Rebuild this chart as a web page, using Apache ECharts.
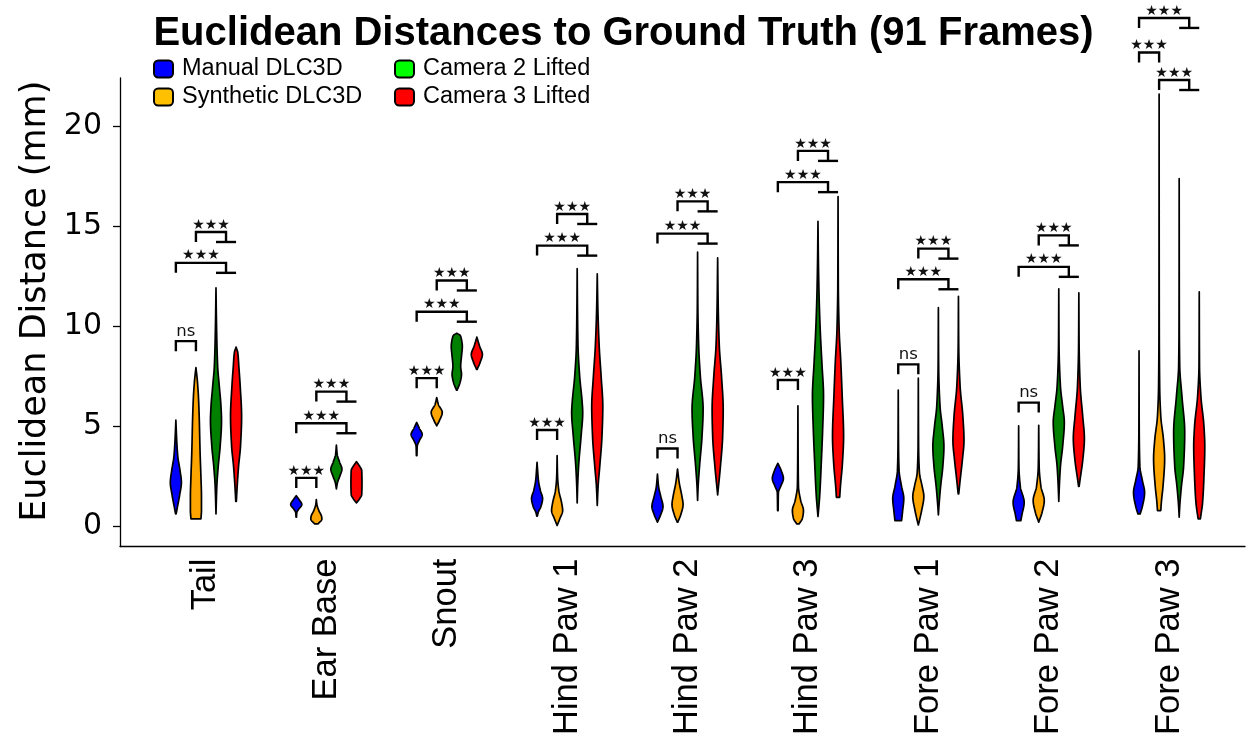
<!DOCTYPE html>
<html>
<head>
<meta charset="utf-8">
<script src="https://cdn.jsdelivr.net/npm/echarts@6/dist/echarts.min.js"></script>
<style>
  html, body { margin: 0; padding: 0; background: #ffffff; }
  #chart { width: 1247px; height: 738px; }
</style>
</head>
<body>
<div id="chart"></div>
<script>
// Body parts on the x axis
const categories = ['Tail', 'Ear Base', 'Snout', 'Hind Paw 1', 'Hind Paw 2', 'Hind Paw 3', 'Fore Paw 1', 'Fore Paw 2', 'Fore Paw 3'];
const groupNames = ['Manual DLC3D', 'Synthetic DLC3D', 'Camera 2 Lifted', 'Camera 3 Lifted'];
const yTicks = [0, 5, 10, 15, 20];

// Violin outlines, one per body part: [distance in mm, relative density width]
const manualProfiles = [
  [[0.63, 0.05], [1.0, 0.3], [1.6, 0.7], [2.2, 1.0], [2.8, 0.75], [3.5, 0.35], [4.5, 0.12], [5.31, 0]],
  [[0.47, 0.04], [0.7, 0.1], [0.85, 0.4], [1.1, 1.0], [1.35, 0.5], [1.54, 0]],
  [[3.54, 0.05], [4.0, 0.1], [4.3, 0.5], [4.6, 1.0], [4.9, 0.5], [5.2, 0]],
  [[0.52, 0.05], [0.7, 0.2], [1.0, 0.7], [1.4, 1.0], [1.8, 0.6], [2.3, 0.25], [2.8, 0.1], [3.21, 0]],
  [[0.22, 0], [0.6, 0.6], [1.0, 1.0], [1.5, 0.6], [2.0, 0.2], [2.62, 0]],
  [[0.8, 0.05], [1.7, 0.1], [2.0, 0.5], [2.4, 1.0], [2.8, 0.6], [3.16, 0]],
  [[0.3, 0.6], [0.8, 0.8], [1.4, 1.0], [2.0, 0.6], [2.8, 0.15], [4.0, 0.05], [6.81, 0]],
  [[0.3, 0.4], [0.6, 0.6], [1.2, 1.0], [2.0, 0.3], [3.0, 0.05], [5.03, 0]],
  [[0.63, 0.2], [1.0, 0.6], [1.7, 1.0], [2.3, 0.6], [3.0, 0.15], [5.0, 0.03], [8.77, 0]]
];
const syntheticProfiles = [
  [[0.38, 0.9], [0.8, 1.0], [1.5, 1.0], [2.5, 0.9], [3.7, 0.75], [5.4, 0.6], [6.5, 0.45], [7.3, 0.25], [7.94, 0]],
  [[0.13, 0.3], [0.38, 1.0], [0.5, 0.95], [0.8, 0.45], [1.1, 0.1], [1.35, 0]],
  [[5.03, 0], [5.3, 0.5], [5.7, 1.0], [6.1, 0.3], [6.44, 0]],
  [[0.05, 0], [0.4, 0.5], [0.8, 1.0], [1.2, 0.8], [1.8, 0.3], [2.5, 0.08], [3.54, 0]],
  [[0.22, 0.05], [0.6, 0.6], [1.1, 1.0], [1.5, 0.8], [2.2, 0.3], [2.87, 0]],
  [[0.13, 0.2], [0.4, 0.8], [0.8, 1.0], [1.3, 0.5], [2.0, 0.1], [3.0, 0.05], [6.03, 0]],
  [[0.08, 0], [0.3, 0.2], [0.8, 0.6], [1.5, 1.0], [2.0, 0.7], [2.7, 0.2], [4.0, 0.05], [7.41, 0]],
  [[0.22, 0], [0.7, 0.6], [1.3, 1.0], [2.0, 0.4], [3.0, 0.08], [5.06, 0]],
  [[0.8, 0.3], [1.2, 0.4], [2.0, 0.7], [3.4, 1.0], [4.3, 0.8], [5.5, 0.3], [7.0, 0.1], [10.0, 0.03], [21.6, 0]]
];
const cam2Profiles = [
  [[0.63, 0], [2.0, 0.15], [3.0, 0.4], [4.0, 0.75], [5.3, 1.0], [6.0, 0.9], [7.0, 0.6], [8.0, 0.3], [10.0, 0.1], [11.92, 0]],
  [[1.88, 0], [2.2, 0.2], [2.5, 0.6], [2.87, 1.0], [3.2, 0.6], [3.6, 0.15], [4.07, 0]],
  [[6.81, 0.05], [7.2, 0.6], [7.6, 0.85], [8.0, 0.7], [8.5, 0.85], [9.0, 1.0], [9.4, 0.8], [9.55, 0.6], [9.65, 0]],
  [[1.18, 0], [2.0, 0.08], [3.0, 0.25], [4.5, 0.7], [5.7, 1.0], [6.2, 0.9], [7.5, 0.45], [9.0, 0.15], [11.0, 0.05], [12.88, 0]],
  [[1.3, 0], [2.0, 0.1], [3.0, 0.35], [4.5, 0.8], [5.86, 1.0], [7.5, 0.5], [9.0, 0.2], [11.0, 0.05], [13.7, 0]],
  [[0.5, 0], [1.5, 0.3], [3.2, 0.6], [4.9, 0.85], [6.5, 1.0], [8.2, 0.7], [9.85, 0.4], [11.5, 0.2], [13.2, 0.08], [15.24, 0]],
  [[0.58, 0], [1.0, 0.1], [2.0, 0.4], [3.0, 0.8], [4.0, 1.0], [5.0, 0.7], [6.0, 0.3], [8.0, 0.05], [10.93, 0]],
  [[1.25, 0], [2.0, 0.1], [3.0, 0.3], [4.0, 0.7], [5.2, 1.0], [6.0, 0.7], [7.0, 0.3], [9.0, 0.05], [11.87, 0]],
  [[0.47, 0], [1.0, 0.1], [2.0, 0.4], [3.0, 0.8], [4.7, 1.0], [6.5, 0.5], [8.0, 0.1], [10.0, 0.03], [17.37, 0]]
];
const cam3Profiles = [
  [[1.25, 0.05], [2.0, 0.2], [3.0, 0.45], [4.0, 0.8], [5.5, 1.0], [7.0, 0.75], [8.0, 0.5], [8.7, 0.3], [8.96, 0]],
  [[1.18, 0], [1.4, 0.6], [1.6, 0.95], [2.2, 1.0], [2.8, 0.95], [3.0, 0.6], [3.24, 0]],
  [[7.85, 0.05], [8.2, 0.6], [8.6, 1.0], [9.0, 0.5], [9.46, 0]],
  [[1.05, 0], [2.0, 0.15], [3.0, 0.45], [4.5, 0.85], [6.0, 1.0], [7.5, 0.7], [9.0, 0.35], [11.0, 0.1], [12.62, 0]],
  [[1.58, 0], [2.0, 0.15], [3.0, 0.5], [4.5, 0.9], [5.86, 1.0], [7.5, 0.7], [9.0, 0.3], [11.0, 0.1], [13.42, 0]],
  [[1.46, 0.3], [1.9, 0.4], [3.2, 0.8], [4.5, 1.0], [6.5, 0.75], [8.2, 0.5], [9.8, 0.2], [12.0, 0.05], [16.48, 0]],
  [[1.63, 0.05], [2.3, 0.3], [3.3, 0.7], [4.3, 1.0], [5.5, 0.8], [7.0, 0.3], [9.0, 0.05], [11.5, 0]],
  [[2.01, 0.05], [2.5, 0.3], [3.3, 0.7], [4.4, 1.0], [5.5, 0.7], [7.0, 0.25], [9.0, 0.05], [11.67, 0]],
  [[0.38, 0.2], [1.2, 0.6], [2.5, 0.85], [4.0, 1.0], [5.0, 0.85], [6.5, 0.3], [8.0, 0.05], [11.72, 0]]
];

// Significance brackets: [body part, from group, to group(s), bracket height (mm), label]
const brackets = [
  [0, 0, [1], 9.26, 'ns'], [0, 0, [2, 3], 13.17, '★★★'], [0, 1, [2, 3], 14.71, '★★★'],
  [1, 0, [1], 2.43, '★★★'], [1, 0, [2, 3], 5.16, '★★★'], [1, 1, [2, 3], 6.74, '★★★'],
  [2, 0, [1], 7.41, '★★★'], [2, 0, [2, 3], 10.73, '★★★'], [2, 1, [2, 3], 12.29, '★★★'],
  [3, 0, [1], 4.82, '★★★'], [3, 0, [2, 3], 14.03, '★★★'], [3, 1, [2, 3], 15.61, '★★★'],
  [4, 0, [1], 3.90, 'ns'], [4, 0, [2, 3], 14.63, '★★★'], [4, 1, [2, 3], 16.24, '★★★'],
  [5, 0, [1], 7.32, '★★★'], [5, 0, [2, 3], 17.20, '★★★'], [5, 1, [2, 3], 18.76, '★★★'],
  [6, 0, [1], 8.10, 'ns'], [6, 0, [2, 3], 12.35, '★★★'], [6, 1, [2, 3], 13.88, '★★★'],
  [7, 0, [1], 6.19, 'ns'], [7, 0, [2, 3], 12.97, '★★★'], [7, 1, [2, 3], 14.54, '★★★'],
  [8, 0, [1], 23.67, '★★★'], [8, 0, [2, 3], 25.40, '★★★'], [8, 1, [2, 3], 22.30, '★★★']
];

// ---- layout and styling ----
const violinColors = ['#0000ff', '#ffa500', '#008000', '#ff0000'];
const legendColors = ['#0000ff', '#ffc000', '#00ff00', '#ff0000'];
const groupOffset = [-0.25, -0.0833, 0.0833, 0.25];
const halfWidth = 0.046;      // x-axis units at full density
const legHeight = 0.5;        // bracket leg length, mm
const profiles = [manualProfiles, syntheticProfiles, cam2Profiles, cam3Profiles];

// monotone cubic (Fritsch–Carlson) resampling of a width profile for a smooth outline
function smoothOutline(prof, n) {
  const xs = prof.map(p => p[0]), ys = prof.map(p => p[1]);
  const m = xs.length;
  const d = [], t = new Array(m).fill(0);
  for (let i = 0; i < m - 1; i++) d.push((ys[i + 1] - ys[i]) / (xs[i + 1] - xs[i]));
  t[0] = d[0]; t[m - 1] = d[m - 2];
  for (let i = 1; i < m - 1; i++) {
    if (d[i - 1] * d[i] <= 0) t[i] = 0;
    else {
      const w1 = 2 * (xs[i + 1] - xs[i]) + (xs[i] - xs[i - 1]);
      const w2 = (xs[i + 1] - xs[i]) + 2 * (xs[i] - xs[i - 1]);
      t[i] = (w1 + w2) / (w1 / d[i - 1] + w2 / d[i]);
    }
  }
  const out = [];
  for (let k = 0; k <= n; k++) {
    const x = xs[0] + (xs[m - 1] - xs[0]) * k / n;
    let i = 0;
    while (i < m - 2 && x > xs[i + 1]) i++;
    const h = xs[i + 1] - xs[i];
    const s = (x - xs[i]) / h;
    const h00 = 2 * s * s * s - 3 * s * s + 1, h10 = s * s * s - 2 * s * s + s;
    const h01 = -2 * s * s * s + 3 * s * s, h11 = s * s * s - s * s;
    const y = h00 * ys[i] + h10 * h * t[i] + h01 * ys[i + 1] + h11 * h * t[i + 1];
    out.push([x, Math.max(0, y)]);
  }
  return out;
}

function violinRenderer(g) {
  return function (params, api) {
    const cat = params.dataIndex;
    const prof = profiles[g][cat];
    const cx = cat + groupOffset[g];
    const hw = api.size([halfWidth, 0])[0];
    const right = [], left = [];
    smoothOutline(prof, 120).forEach(function (pt) {
      const c = api.coord([cx, pt[0]]);
      right.push([c[0] + pt[1] * hw, c[1]]);
      left.push([c[0] - pt[1] * hw, c[1]]);
    });
    return {
      type: 'polygon',
      shape: { points: right.concat(left.reverse()) },
      style: { fill: violinColors[g], stroke: '#000000', lineWidth: 1.7, lineJoin: 'round' }
    };
  };
}

function bracketRenderer(params, api) {
  const b = brackets[params.dataIndex];
  const cat = b[0];
  const xL = cat + groupOffset[b[1]];
  const toX = b[2].map(g => cat + groupOffset[g]);
  const xR = toX.reduce((a, c) => a + c, 0) / toX.length;
  const pTL = api.coord([xL, b[3]]);
  const pBL = api.coord([xL, b[3] - legHeight]);
  const pTR = api.coord([xR, b[3]]);
  const pBR = api.coord([xR, b[3] - legHeight]);
  const lineStyle = { stroke: '#000000', lineWidth: 2.4, fill: null };
  const children = [{
    type: 'polyline',
    shape: { points: [pBL, pTL, pTR, pBR] },
    style: lineStyle
  }];
  if (toX.length > 1) {
    const a = api.coord([toX[0], b[3] - legHeight]);
    const c = api.coord([toX[toX.length - 1], b[3] - legHeight]);
    children.push({ type: 'line', shape: { x1: a[0], y1: a[1], x2: c[0], y2: c[1] }, style: lineStyle });
  }
  const isStars = b[4] !== 'ns';
  children.push({
    type: 'text',
    style: {
      x: (pTL[0] + pTR[0]) / 2,
      y: pTL[1] - (isStars ? 0 : 1),
      text: b[4],
      fill: '#111111',
      font: (isStars ? '14px' : '16.5px') + ' "DejaVu Sans"',
      align: 'center',
      verticalAlign: 'bottom'
    }
  });
  return { type: 'group', children: children };
}

const seriesList = groupNames.map(function (name, g) {
  return {
    name: name,
    type: 'custom',
    renderItem: violinRenderer(g),
    itemStyle: { color: violinColors[g] },
    data: categories.map((c, i) => [i + groupOffset[g], profiles[g][i][profiles[g][i].length - 1][0]]),
    encode: { x: 0, y: 1 },
    clip: false,
    silent: true,
    z: 2
  };
});
seriesList.push({
  name: 'brackets',
  type: 'custom',
  renderItem: bracketRenderer,
  data: brackets.map(b => [b[0], b[3]]),
  encode: { x: 0, y: 1 },
  clip: false,
  silent: true,
  z: 3
});

function legendBlock(idx, left) {
  return {
    orient: 'vertical',
    left: left,
    top: 57,
    padding: 0,
    itemGap: 4,
    itemWidth: 19,
    itemHeight: 17,
    selectedMode: false,
    icon: 'roundRect',
    textStyle: { fontFamily: 'Liberation Sans', fontSize: 23.5, color: '#000000', padding: [0, 0, 0, 4] },
    data: idx.map(i => ({
      name: groupNames[i],
      icon: 'roundRect',
      itemStyle: { color: legendColors[i], borderColor: '#000000', borderWidth: 2 }
    }))
  };
}

const chart = echarts.init(document.getElementById('chart'), null, { renderer: 'canvas' });
chart.setOption({
  backgroundColor: '#ffffff',
  animation: false,
  title: {
    text: 'Euclidean Distances to Ground Truth (91 Frames)',
    left: 'center',
    top: 14,
    padding: 0,
    textStyle: { fontFamily: 'Liberation Sans', fontWeight: 'bold', fontSize: 40, color: '#000000' }
  },
  legend: [legendBlock([0, 1], 153), legendBlock([2, 3], 394)],
  grid: { left: 120, right: 2, top: 78, bottom: 190, containLabel: false },
  xAxis: {
    type: 'value',
    min: -0.714,
    max: 8.63,
    axisLine: { show: true, onZero: false, lineStyle: { color: '#000000', width: 1.3 } },
    axisTick: { show: false },
    splitLine: { show: false },
    axisLabel: {
      customValues: categories.map((c, i) => i),
      formatter: v => categories[Math.round(v)],
      rotate: 90,
      margin: 12,
      fontFamily: 'Liberation Sans',
      fontSize: 34.5,
      color: '#000000'
    }
  },
  yAxis: {
    type: 'value',
    min: -1.0,
    max: 22.4,
    name: 'Euclidean Distance (mm)',
    nameLocation: 'middle',
    nameGap: 64,
    nameTextStyle: { fontFamily: 'DejaVu Sans', fontSize: 35, color: '#000000', padding: [0, 0, 0, 22] },
    axisLine: { show: true, onZero: false, lineStyle: { color: '#000000', width: 1.3 } },
    axisTick: { show: true, customValues: yTicks, length: 7, lineStyle: { color: '#000000', width: 1.3 } },
    splitLine: { show: false },
    axisLabel: {
      customValues: yTicks,
      margin: 18,
      fontFamily: 'DejaVu Sans',
      fontSize: 30,
      color: '#000000'
    }
  },
  series: seriesList
});
</script>
</body>
</html>
